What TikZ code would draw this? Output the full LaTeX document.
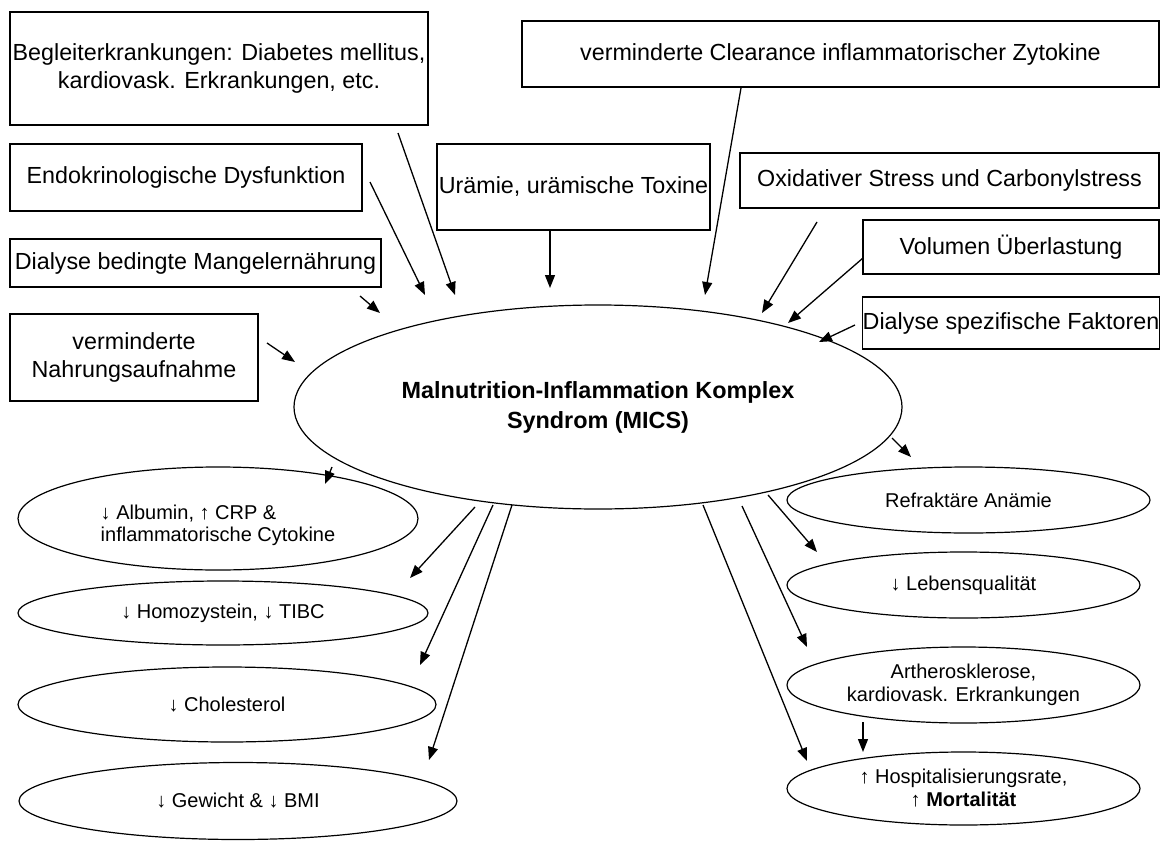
\documentclass[tikz,border=0pt]{standalone}
\usepackage{fontspec}
\setmainfont{Liberation Sans}
\usetikzlibrary{arrows.meta,calc,shapes.geometric}
\begin{document}
\begin{tikzpicture}[x=1pt,y=-1pt,
  box/.style={draw, line width=1.3pt, rectangle, inner sep=0pt, align=center, font=\fontsize{23.3}{28}\selectfont},
  oval/.style={draw, line width=1.2pt, ellipse, inner sep=0pt, align=center, font=\fontsize{20}{23}\selectfont},
  arr/.style={line width=1.3pt, -{Triangle[length=13pt,width=10pt]}}]
\useasboundingbox (0,0) rectangle (1161,840);
% boxes
\node[box, minimum width=418pt, minimum height=113pt] (beg) at (219,68.5) {Begleiterkrankungen: Diabetes mellitus,\\kardiovask. Erkrankungen, etc.};
\node[box, minimum width=352pt, minimum height=67pt] (endo) at (186,177.5) {Endokrinologische Dysfunktion};
\node[box, minimum width=371pt, minimum height=48pt] (dbm) at (195.5,263) {Dialyse bedingte Mangelernährung};
\node[box, minimum width=248pt, minimum height=87pt] (nahr) at (134,357.5) {verminderte\\Nahrungsaufnahme};
\node[box, minimum width=273pt, minimum height=86pt] (ur) at (573.5,187) {Urämie, urämische Toxine};
\node[box, minimum width=637pt, minimum height=66pt] (clear) at (840.5,54) {verminderte Clearance inflammatorischer Zytokine};
\node[box, minimum width=419pt, minimum height=55pt] (oxi) at (949.5,180.5) {Oxidativer Stress und Carbonylstress};
\node[box, minimum width=296pt, minimum height=54pt] (vol) at (1011,247) {Volumen Überlastung};
\node[box, minimum width=296pt, minimum height=52pt] (dsf) at (1011,323) {Dialyse spezifische Faktoren};
% central
\node[oval, minimum width=608pt, minimum height=204pt, font=\fontsize{23.4}{30}\selectfont\bfseries] (mics) at (598,407) {Malnutrition-Inflammation Komplex\\Syndrom (MICS)};
% left results
\node[oval, minimum width=400pt, minimum height=103pt] (alb) at (218,518.5) {\raisebox{-7pt}[\height][\depth]{\begin{tabular}{@{}l@{}}↓ Albumin, ↑ CRP \&\\[-1pt]inflammatorische Cytokine\end{tabular}}};
\node[oval, minimum width=410pt, minimum height=64pt] (homo) at (223,613) {↓ Homozystein, ↓ TIBC};
\node[oval, minimum width=418pt, minimum height=75pt] (chol) at (227,704.5) {↓ Cholesterol};
\node[oval, minimum width=438pt, minimum height=77pt] (bmi) at (238,801) {↓ Gewicht \& ↓ BMI};
% right results
\node[oval, minimum width=363pt, minimum height=66pt] (anae) at (968.5,500) {Refraktäre Anämie};
\node[oval, minimum width=353pt, minimum height=66pt] (leb) at (963.5,585) {↓ Lebensqualität};
\node[oval, minimum width=353pt, minimum height=76pt] (arth) at (963.5,685) {Artherosklerose,\\kardiovask. Erkrankungen};
\node[oval, minimum width=353pt, minimum height=73pt] (hosp) at (963.5,788.5) {↑ Hospitalisierungsrate,\\↑ \textbf{Mortalität}};
% incoming arrows
\draw[arr] ($(beg)+(179,64.5)$) -- ($(mics)+(-143,-112)$);
\draw[arr] ($(endo)+(184,4.5)$) -- ($(mics)+(-173,-112)$);
\draw[arr] ($(dbm)+(164.5,33)$) -- ($(mics)+(-218,-94)$);
\draw[arr] ($(nahr)+(133,-14.5)$) -- ($(mics)+(-303,-45)$);
\draw[arr] ($(ur.south)+(-23.5,0)$) -- ($(mics)+(-48,-119)$);
\draw[arr] ($(clear)+(-99.5,34)$) -- ($(mics)+(107,-112)$);
\draw[arr] ($(oxi)+(-132.5,41.5)$) -- ($(mics)+(164,-94)$);
\draw[arr] ($(vol)+(-148,11)$) -- ($(mics)+(190,-84)$);
\draw[arr] ($(dsf)+(-156,2)$) -- ($(mics)+(221,-65)$);
% outgoing arrows right
\draw[arr] ($(mics)+(294,31)$) -- ($(anae)+(-57.5,-43)$);
\draw[arr] ($(mics)+(170,88)$) -- ($(leb)+(-146.5,-33)$);
\draw[arr] ($(mics)+(144,99)$) -- ($(arth)+(-156.5,-38)$);
\draw[arr] ($(mics)+(105,98)$) -- ($(hosp)+(-156.5,-27.5)$);
\draw[arr] ($(arth)+(-100.5,37)$) -- ($(hosp)+(-100.5,-36.5)$);
% outgoing arrows left
\draw[arr] ($(mics)+(-266,60)$) -- ($(alb)+(107,-34.5)$);
\draw[arr] ($(mics)+(-123,100)$) -- ($(homo)+(187,-35)$);
\draw[arr] ($(mics)+(-105,98)$) -- ($(chol)+(193,-39.5)$);
\draw[arr] ($(mics)+(-86,98)$) -- ($(bmi)+(191,-41)$);
\end{tikzpicture}
\end{document}
